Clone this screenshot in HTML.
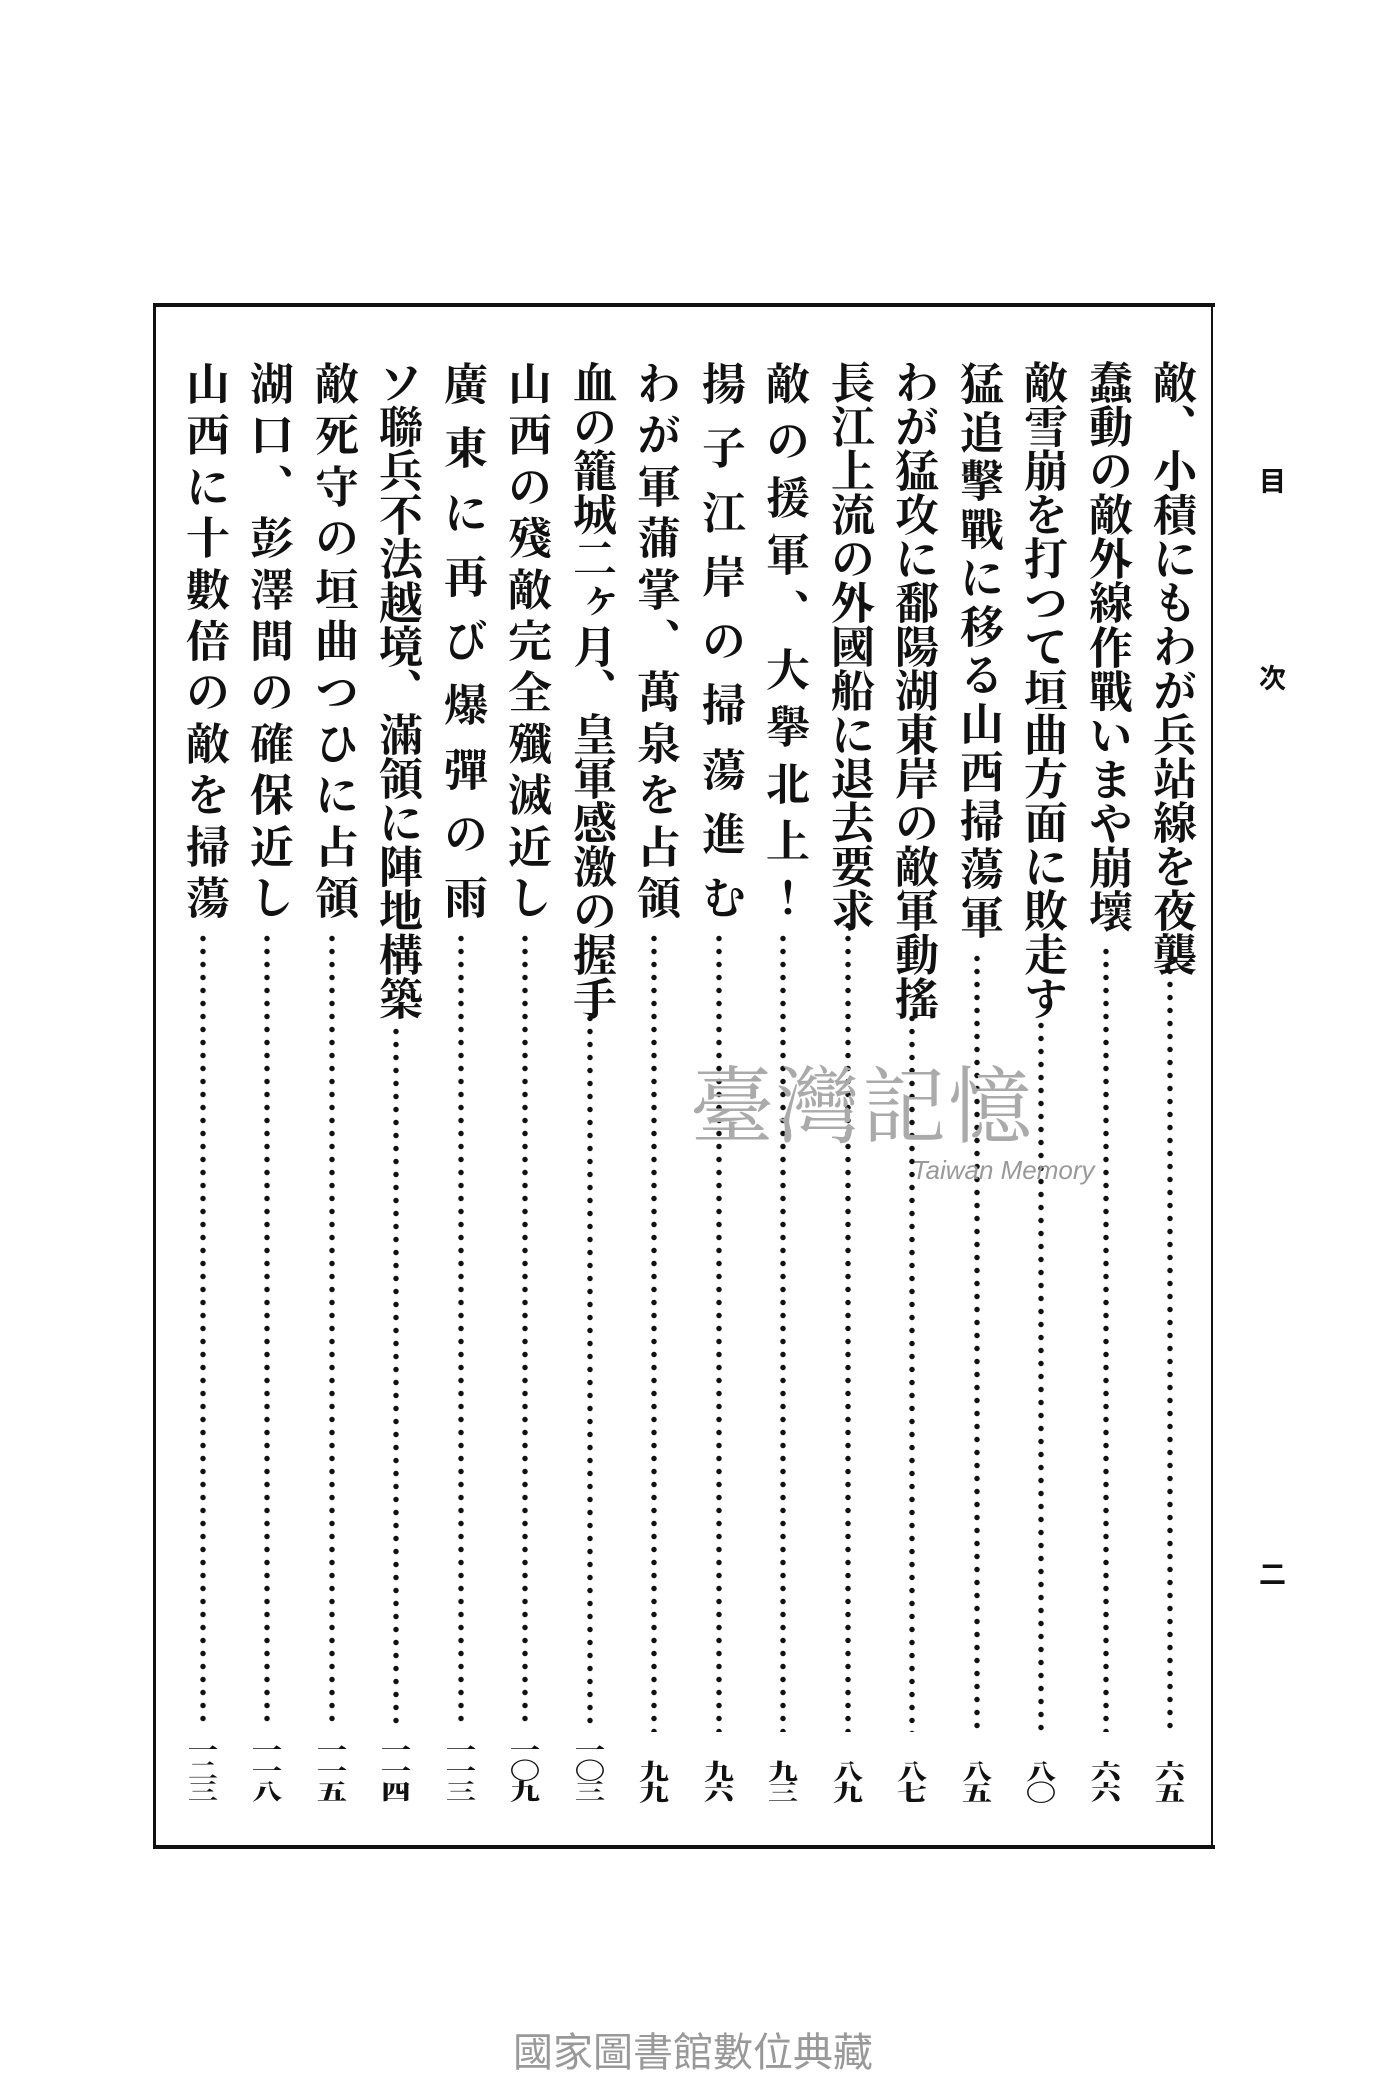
<!DOCTYPE html>
<html><head><meta charset="utf-8"><style>
html,body{margin:0;padding:0;background:#fff;}
body{width:1400px;height:2100px;position:relative;overflow:hidden;font-family:"Liberation Serif","Noto Serif CJK JP","Noto Sans CJK JP",serif;color:#111;}
.b{position:absolute;background:#111;}
.c{position:absolute;top:360px;width:50px;display:flex;flex-direction:column;justify-content:space-between;align-items:center;font-size:44px;font-weight:bold;line-height:46px;}
.c span{display:block;height:46px;width:46px;writing-mode:vertical-rl;text-align:center;}
.d{position:absolute;width:8px;background-image:radial-gradient(circle,#111 2.4px,transparent 3px);background-size:8px 13px;background-repeat:repeat-y;}
.n{position:absolute;width:36px;display:flex;flex-direction:column;align-items:center;font-size:30px;font-weight:900;font-family:"Noto Serif CJK JP",serif;}
.n span{display:block;height:21px;line-height:21px;transform:scaleY(.75);}
.h{position:absolute;font-size:27px;font-weight:bold;font-family:"Noto Sans CJK JP",sans-serif;}
</style></head><body>
<div class="b" style="left:153px;top:303px;width:1062px;height:4px"></div>
<div class="b" style="left:153px;top:1845px;width:1062px;height:4px"></div>
<div class="b" style="left:153px;top:303px;width:3px;height:1545px"></div>
<div class="b" style="left:1211px;top:303px;width:2px;height:1545px"></div>

<div class="h" style="left:1259px;top:460px">目</div>
<div class="h" style="left:1259px;top:657px">次</div>
<div class="h" style="left:1259px;top:1553px">二</div>

<div class="c" style="left:1145px;height:580px"><span>敵</span><span>、</span><span>小</span><span>積</span><span>に</span><span>も</span><span>わ</span><span>が</span><span>兵</span><span>站</span><span>線</span><span>を</span><span>夜</span><span>襲</span></div>
<div class="c" style="left:1081px;height:573px"><span>蠢</span><span>動</span><span>の</span><span>敵</span><span>外</span><span>線</span><span>作</span><span>戰</span><span>い</span><span>ま</span><span>や</span><span>崩</span><span>壞</span></div>
<div class="c" style="left:1016px;height:647px"><span>敵</span><span>雪</span><span>崩</span><span>を</span><span>打</span><span>つ</span><span>て</span><span>垣</span><span>曲</span><span>方</span><span>面</span><span>に</span><span>敗</span><span>走</span><span>す</span></div>
<div class="c" style="left:952px;height:580px"><span>猛</span><span>追</span><span>擊</span><span>戰</span><span>に</span><span>移</span><span>る</span><span>山</span><span>西</span><span>掃</span><span>蕩</span><span>軍</span></div>
<div class="c" style="left:887px;height:640px"><span>わ</span><span>が</span><span>猛</span><span>攻</span><span>に</span><span>鄱</span><span>陽</span><span>湖</span><span>東</span><span>岸</span><span>の</span><span>敵</span><span>軍</span><span>動</span><span>搖</span></div>
<div class="c" style="left:823px;height:547px"><span>長</span><span>江</span><span>上</span><span>流</span><span>の</span><span>外</span><span>國</span><span>船</span><span>に</span><span>退</span><span>去</span><span>要</span><span>求</span></div>
<div class="c" style="left:758px;height:560px"><span>敵</span><span>の</span><span>援</span><span>軍</span><span>、</span><span>大</span><span>擧</span><span>北</span><span>上</span><span>！</span></div>
<div class="c" style="left:694px;height:560px"><span>揚</span><span>子</span><span>江</span><span>岸</span><span>の</span><span>掃</span><span>蕩</span><span>進</span><span>む</span></div>
<div class="c" style="left:629px;height:560px"><span>わ</span><span>が</span><span>軍</span><span>蒲</span><span>掌</span><span>、</span><span>萬</span><span>泉</span><span>を</span><span>占</span><span>領</span></div>
<div class="c" style="left:565px;height:640px"><span>血</span><span>の</span><span>籠</span><span>城</span><span>二</span><span>ヶ</span><span>月</span><span>、</span><span>皇</span><span>軍</span><span>感</span><span>激</span><span>の</span><span>握</span><span>手</span></div>
<div class="c" style="left:500px;height:560px"><span>山</span><span>西</span><span>の</span><span>殘</span><span>敵</span><span>完</span><span>全</span><span>殲</span><span>滅</span><span>近</span><span>し</span></div>
<div class="c" style="left:436px;height:560px"><span>廣</span><span>東</span><span>に</span><span>再</span><span>び</span><span>爆</span><span>彈</span><span>の</span><span>雨</span></div>
<div class="c" style="left:371px;height:653px"><span>ソ</span><span>聯</span><span>兵</span><span>不</span><span>法</span><span>越</span><span>境</span><span>、</span><span>滿</span><span>領</span><span>に</span><span>陣</span><span>地</span><span>構</span><span>築</span></div>
<div class="c" style="left:307px;height:560px"><span>敵</span><span>死</span><span>守</span><span>の</span><span>垣</span><span>曲</span><span>つ</span><span>ひ</span><span>に</span><span>占</span><span>領</span></div>
<div class="c" style="left:242px;height:560px"><span>湖</span><span>口</span><span>、</span><span>彭</span><span>澤</span><span>間</span><span>の</span><span>確</span><span>保</span><span>近</span><span>し</span></div>
<div class="c" style="left:178px;height:560px"><span>山</span><span>西</span><span>に</span><span>十</span><span>數</span><span>倍</span><span>の</span><span>敵</span><span>を</span><span>掃</span><span>蕩</span></div>

<div class="d" style="left:1166px;top:952px;height:780px"></div>
<div class="d" style="left:1102px;top:945px;height:787px"></div>
<div class="d" style="left:1037px;top:1019px;height:713px"></div>
<div class="d" style="left:973px;top:952px;height:780px"></div>
<div class="d" style="left:908px;top:1012px;height:720px"></div>
<div class="d" style="left:844px;top:919px;height:813px"></div>
<div class="d" style="left:779px;top:932px;height:800px"></div>
<div class="d" style="left:715px;top:932px;height:800px"></div>
<div class="d" style="left:650px;top:932px;height:800px"></div>
<div class="d" style="left:586px;top:1012px;height:712px"></div>
<div class="d" style="left:521px;top:932px;height:792px"></div>
<div class="d" style="left:457px;top:932px;height:792px"></div>
<div class="d" style="left:392px;top:1025px;height:699px"></div>
<div class="d" style="left:328px;top:932px;height:792px"></div>
<div class="d" style="left:263px;top:932px;height:792px"></div>
<div class="d" style="left:199px;top:932px;height:792px"></div>

<div class="n" style="left:1152px;top:1760px"><span>六</span><span>五</span></div>
<div class="n" style="left:1088px;top:1760px"><span>六</span><span>六</span></div>
<div class="n" style="left:1023px;top:1760px"><span>八</span><span>〇</span></div>
<div class="n" style="left:959px;top:1760px"><span>八</span><span>五</span></div>
<div class="n" style="left:894px;top:1760px"><span>八</span><span>七</span></div>
<div class="n" style="left:830px;top:1760px"><span>八</span><span>九</span></div>
<div class="n" style="left:765px;top:1760px"><span>九</span><span>三</span></div>
<div class="n" style="left:701px;top:1760px"><span>九</span><span>六</span></div>
<div class="n" style="left:636px;top:1760px"><span>九</span><span>九</span></div>
<div class="n" style="left:572px;top:1738px"><span>一</span><span>〇</span><span>三</span></div>
<div class="n" style="left:507px;top:1738px"><span>一</span><span>〇</span><span>九</span></div>
<div class="n" style="left:443px;top:1738px"><span>一</span><span>一</span><span>三</span></div>
<div class="n" style="left:378px;top:1738px"><span>一</span><span>一</span><span>四</span></div>
<div class="n" style="left:314px;top:1738px"><span>一</span><span>一</span><span>五</span></div>
<div class="n" style="left:249px;top:1738px"><span>一</span><span>一</span><span>八</span></div>
<div class="n" style="left:185px;top:1738px"><span>一</span><span>二</span><span>三</span></div>

<div style="position:absolute;left:690px;top:1040px;font-size:84px;color:#aaa;font-family:'Noto Serif CJK SC',serif;letter-spacing:2px;">臺灣記憶</div>
<div style="position:absolute;left:912px;top:1155px;font-size:26px;color:#999;font-family:'Liberation Sans',sans-serif;font-style:italic">Taiwan Memory</div>
<div style="position:absolute;left:513px;top:2020px;font-size:40px;color:#999;font-family:'Noto Sans CJK TC',sans-serif;">國家圖書館數位典藏</div>
</body></html>
